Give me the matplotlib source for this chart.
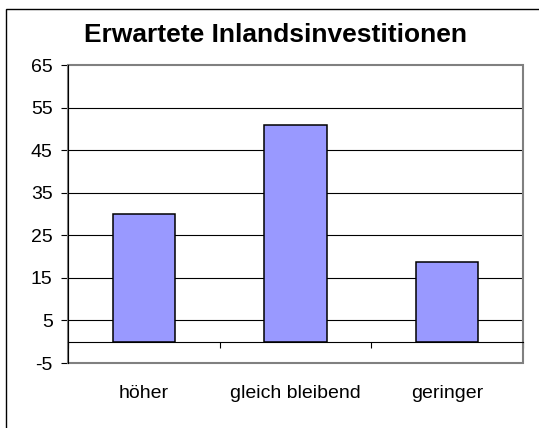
import matplotlib
matplotlib.use('Agg')
import matplotlib.pyplot as plt
from matplotlib.patches import Rectangle

# Erwartete Inlandsinvestitionen (Anteil in %)
categories = ['höher', 'gleich bleibend', 'geringer']
values = [30, 51, 18.7]
y_ticks = [-5, 5, 15, 25, 35, 45, 55, 65]

plt.rcParams['font.family'] = ['Liberation Sans', 'DejaVu Sans']
plt.rcParams['axes.unicode_minus'] = False

W, H = 539, 428
fig = plt.figure(figsize=(W / 100, H / 100), dpi=100)
ax = fig.add_axes([68 / W, 1 - 363 / H, (523 - 68) / W, (363 - 65) / H])

x = list(range(len(categories)))
ax.bar(x, values, width=0.41, color='#9999FF', edgecolor='black', linewidth=1.1, zorder=3)

ax.set_xlim(-0.5, len(categories) - 0.5)
ax.set_ylim(y_ticks[0], y_ticks[-1])
ax.set_yticks(y_ticks)
ax.tick_params(axis='y', direction='out', length=5, width=0.8, color='black',
               labelsize=14, pad=6)

# gridlines (black, like the Excel original)
for t in y_ticks[1:-1]:
    ax.axhline(t, color='black', linewidth=0.8, zorder=1)

# category axis at zero with separator ticks
ax.spines['bottom'].set_position(('data', 0))
ax.spines['bottom'].set_color('black')
ax.spines['bottom'].set_linewidth(0.8)
ax.spines['bottom'].set_zorder(4)
ax.set_xticks([i - 0.5 for i in range(len(categories) + 1)])
ax.set_xticklabels([])
ax.tick_params(axis='x', which='major', direction='out', length=4, width=0.8)
ax.set_xticks(x, minor=True)
ax.set_xticklabels(categories, minor=True)
ax.tick_params(axis='x', which='minor', length=0, labelsize=14, pad=31)

for side in ['top', 'right']:
    ax.spines[side].set_visible(False)
ax.spines['left'].set_color('black')
ax.spines['left'].set_linewidth(0.8)
ax.spines['left'].set_zorder(5)

# grey plot-area border
ax.add_patch(Rectangle((0, 0), 1, 1, transform=ax.transAxes, fill=False,
                       edgecolor='#808080', linewidth=1.5, clip_on=False, zorder=2))

fig.text(0.511, 1 - 42 / H, 'Erwartete Inlandsinvestitionen', ha='center', va='baseline',
         fontsize=19, fontweight='bold')

# outer chart border (only top and left visible in the crop)
fig.add_artist(Rectangle((6 / W, -0.1), 1.2, 1.1 - 9 / H, transform=fig.transFigure,
                         fill=False, edgecolor='black', linewidth=1.0))

fig.savefig('out.png', dpi=100)
